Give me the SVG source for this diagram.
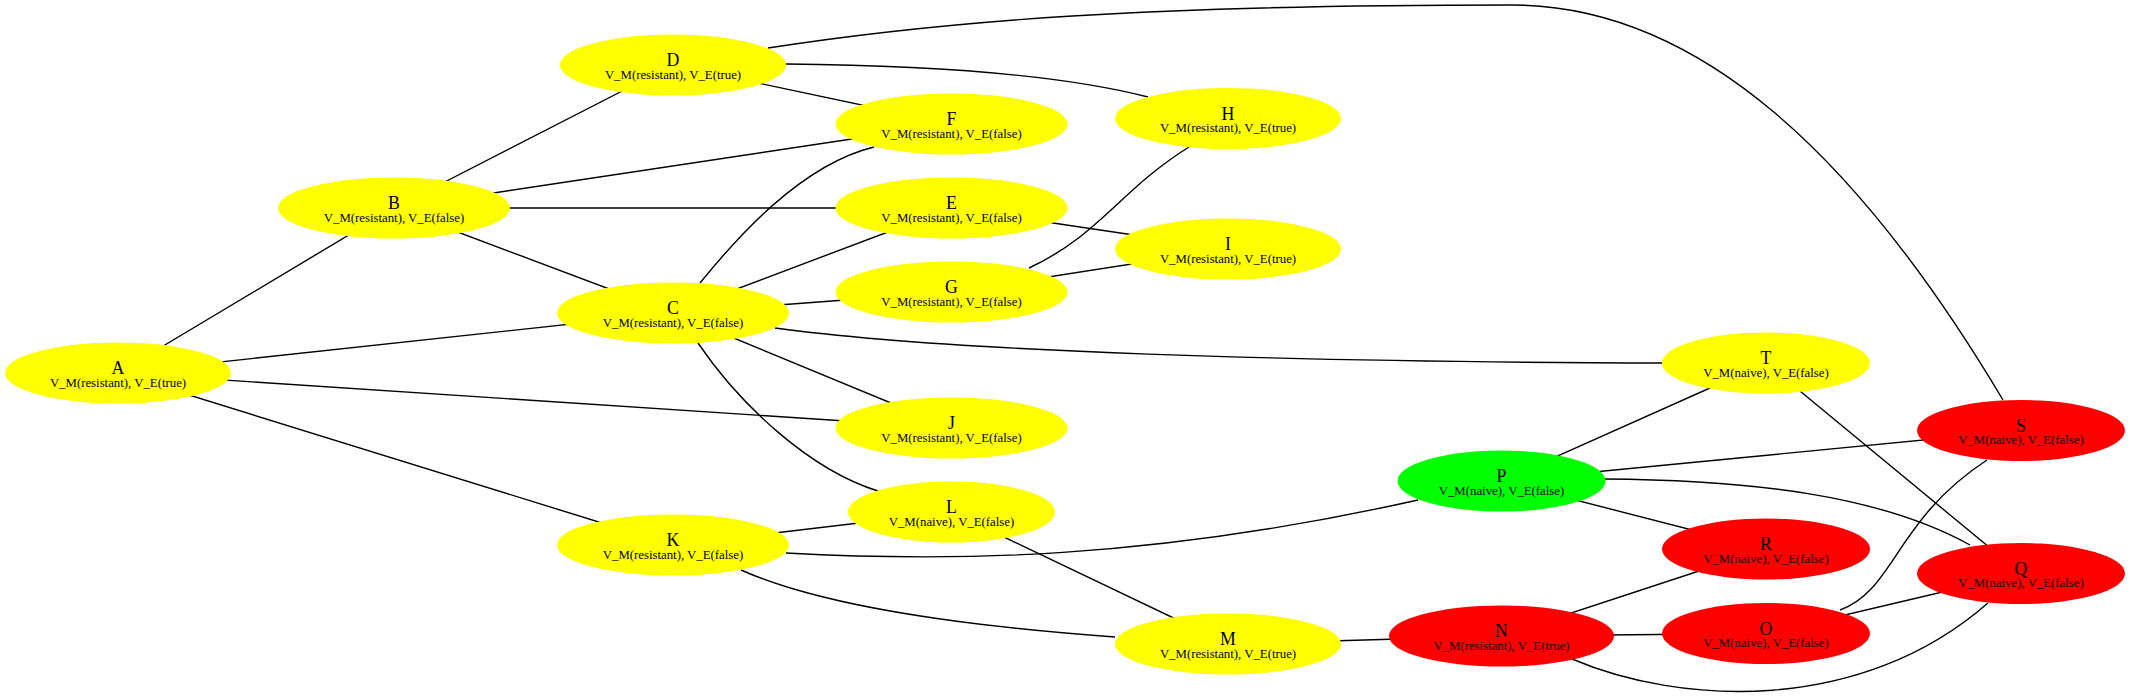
<svg xmlns="http://www.w3.org/2000/svg" width="2130" height="697" viewBox="0 0 2130 697">
<style>
.e{fill:none;stroke:#000;stroke-width:1.4}
.y{fill:#ffff00}
.r{fill:#ff0000}
.g{fill:#00ff00}
.t1{font-family:"Liberation Serif","Times New Roman",serif;font-size:17.8px;text-anchor:middle;fill:#000}
.t2{font-family:"Liberation Serif","Times New Roman",serif;font-size:12.8px;text-anchor:middle;fill:#000}
</style>
<rect width="2130" height="697" fill="#fff"/>
<g id="edges">
<path class="e" d="M118,373 L394,208"/>
<path class="e" d="M118,373 L673,313"/>
<path class="e" d="M118,373 L951.5,428"/>
<path class="e" d="M118,373 L673,545"/>
<path class="e" d="M394,208 L673,65"/>
<path class="e" d="M394,208 L951.5,124"/>
<path class="e" d="M394,208 L951.5,208"/>
<path class="e" d="M394,208 L673,313"/>
<path class="e" d="M673,313 L951.5,208"/>
<path class="e" d="M673,313 L951.5,292"/>
<path class="e" d="M673,313 L951.5,428"/>
<path class="e" d="M673,65 L951.5,124"/>
<path class="e" d="M951.5,208 L1228,249"/>
<path class="e" d="M951.5,292 L1228,249"/>
<path class="e" d="M673,545 L951.5,512"/>
<path class="e" d="M951.5,512 L1228,644"/>
<path class="e" d="M1228,644 L1501.5,636"/>
<path class="e" d="M1501.5,636 L1766,633.5"/>
<path class="e" d="M1501.5,636 L1766,549"/>
<path class="e" d="M1766,633.5 L2021,573.5"/>
<path class="e" d="M1501.5,481 L1766,363"/>
<path class="e" d="M1501.5,481 L2021,430.5"/>
<path class="e" d="M1501.5,481 L1766,549"/>
<path class="e" d="M1766,363 L2021,573.5"/>
<path class="e" d="M700,283 C735,240 800,165 874,147"/>
<path class="e" d="M775,328 C950,352 1300,362 1662,363"/>
<path class="e" d="M698,343 C740,405 810,470 878,491"/>
<path class="e" d="M786,64 C900,65 1050,72 1148,97"/>
<path class="e" d="M768,48 C950,20 1150,5 1512,5 C1700,5 1860,160 2003,400"/>
<path class="e" d="M1029,268 C1100,235 1120,190 1189,147"/>
<path class="e" d="M786,553 C950,562 1150,560 1418,500"/>
<path class="e" d="M741,570 C820,605 950,625 1115,637"/>
<path class="e" d="M1572,659 C1680,705 1860,715 1988,603"/>
<path class="e" d="M1840,610 C1895,590 1895,520 1987,460"/>
<path class="e" d="M1604,479 C1750,480 1880,495 1970,545"/>
</g>
<g id="A"><ellipse class="y" cx="118" cy="373" rx="113" ry="30.5"/><text class="t1" x="118" y="374">A</text><text class="t2" x="118" y="386.5">V_M(resistant), V_E(true)</text></g>
<g id="B"><ellipse class="y" cx="394" cy="208" rx="116" ry="30.5"/><text class="t1" x="394" y="209">B</text><text class="t2" x="394" y="221.5">V_M(resistant), V_E(false)</text></g>
<g id="C"><ellipse class="y" cx="673" cy="313" rx="116" ry="30.5"/><text class="t1" x="673" y="314">C</text><text class="t2" x="673" y="326.5">V_M(resistant), V_E(false)</text></g>
<g id="D"><ellipse class="y" cx="673" cy="65" rx="113" ry="30.5"/><text class="t1" x="673" y="66">D</text><text class="t2" x="673" y="78.5">V_M(resistant), V_E(true)</text></g>
<g id="E"><ellipse class="y" cx="951.5" cy="208" rx="116" ry="30.5"/><text class="t1" x="951.5" y="209">E</text><text class="t2" x="951.5" y="221.5">V_M(resistant), V_E(false)</text></g>
<g id="F"><ellipse class="y" cx="951.5" cy="124" rx="116" ry="30.5"/><text class="t1" x="951.5" y="125">F</text><text class="t2" x="951.5" y="137.5">V_M(resistant), V_E(false)</text></g>
<g id="G"><ellipse class="y" cx="951.5" cy="292" rx="116" ry="30.5"/><text class="t1" x="951.5" y="293">G</text><text class="t2" x="951.5" y="305.5">V_M(resistant), V_E(false)</text></g>
<g id="H"><ellipse class="y" cx="1228" cy="118.5" rx="113" ry="30.5"/><text class="t1" x="1228" y="119.5">H</text><text class="t2" x="1228" y="132">V_M(resistant), V_E(true)</text></g>
<g id="I"><ellipse class="y" cx="1228" cy="249" rx="113" ry="30.5"/><text class="t1" x="1228" y="250">I</text><text class="t2" x="1228" y="262.5">V_M(resistant), V_E(true)</text></g>
<g id="J"><ellipse class="y" cx="951.5" cy="428" rx="116" ry="30.5"/><text class="t1" x="951.5" y="429">J</text><text class="t2" x="951.5" y="441.5">V_M(resistant), V_E(false)</text></g>
<g id="K"><ellipse class="y" cx="673" cy="545" rx="116" ry="30.5"/><text class="t1" x="673" y="546">K</text><text class="t2" x="673" y="558.5">V_M(resistant), V_E(false)</text></g>
<g id="L"><ellipse class="y" cx="951.5" cy="512" rx="103.5" ry="30.5"/><text class="t1" x="951.5" y="513">L</text><text class="t2" x="951.5" y="525.5">V_M(naive), V_E(false)</text></g>
<g id="M"><ellipse class="y" cx="1228" cy="644" rx="113" ry="30.5"/><text class="t1" x="1228" y="645">M</text><text class="t2" x="1228" y="657.5">V_M(resistant), V_E(true)</text></g>
<g id="N"><ellipse class="r" cx="1501.5" cy="636" rx="112.5" ry="30.5"/><text class="t1" x="1501.5" y="637">N</text><text class="t2" x="1501.5" y="649.5">V_M(resistant), V_E(true)</text></g>
<g id="O"><ellipse class="r" cx="1766" cy="633.5" rx="104" ry="30.5"/><text class="t1" x="1766" y="634.5">O</text><text class="t2" x="1766" y="647">V_M(naive), V_E(false)</text></g>
<g id="P"><ellipse class="g" cx="1501.5" cy="481" rx="104" ry="30.5"/><text class="t1" x="1501.5" y="482">P</text><text class="t2" x="1501.5" y="494.5">V_M(naive), V_E(false)</text></g>
<g id="Q"><ellipse class="r" cx="2021" cy="573.5" rx="104" ry="30.5"/><text class="t1" x="2021" y="574.5">Q</text><text class="t2" x="2021" y="587">V_M(naive), V_E(false)</text></g>
<g id="R"><ellipse class="r" cx="1766" cy="549" rx="104" ry="30.5"/><text class="t1" x="1766" y="550">R</text><text class="t2" x="1766" y="562.5">V_M(naive), V_E(false)</text></g>
<g id="S"><ellipse class="r" cx="2021" cy="430.5" rx="104" ry="30.5"/><text class="t1" x="2021" y="431.5">S</text><text class="t2" x="2021" y="444">V_M(naive), V_E(false)</text></g>
<g id="T"><ellipse class="y" cx="1766" cy="363" rx="104" ry="30.5"/><text class="t1" x="1766" y="364">T</text><text class="t2" x="1766" y="376.5">V_M(naive), V_E(false)</text></g>
</svg>
